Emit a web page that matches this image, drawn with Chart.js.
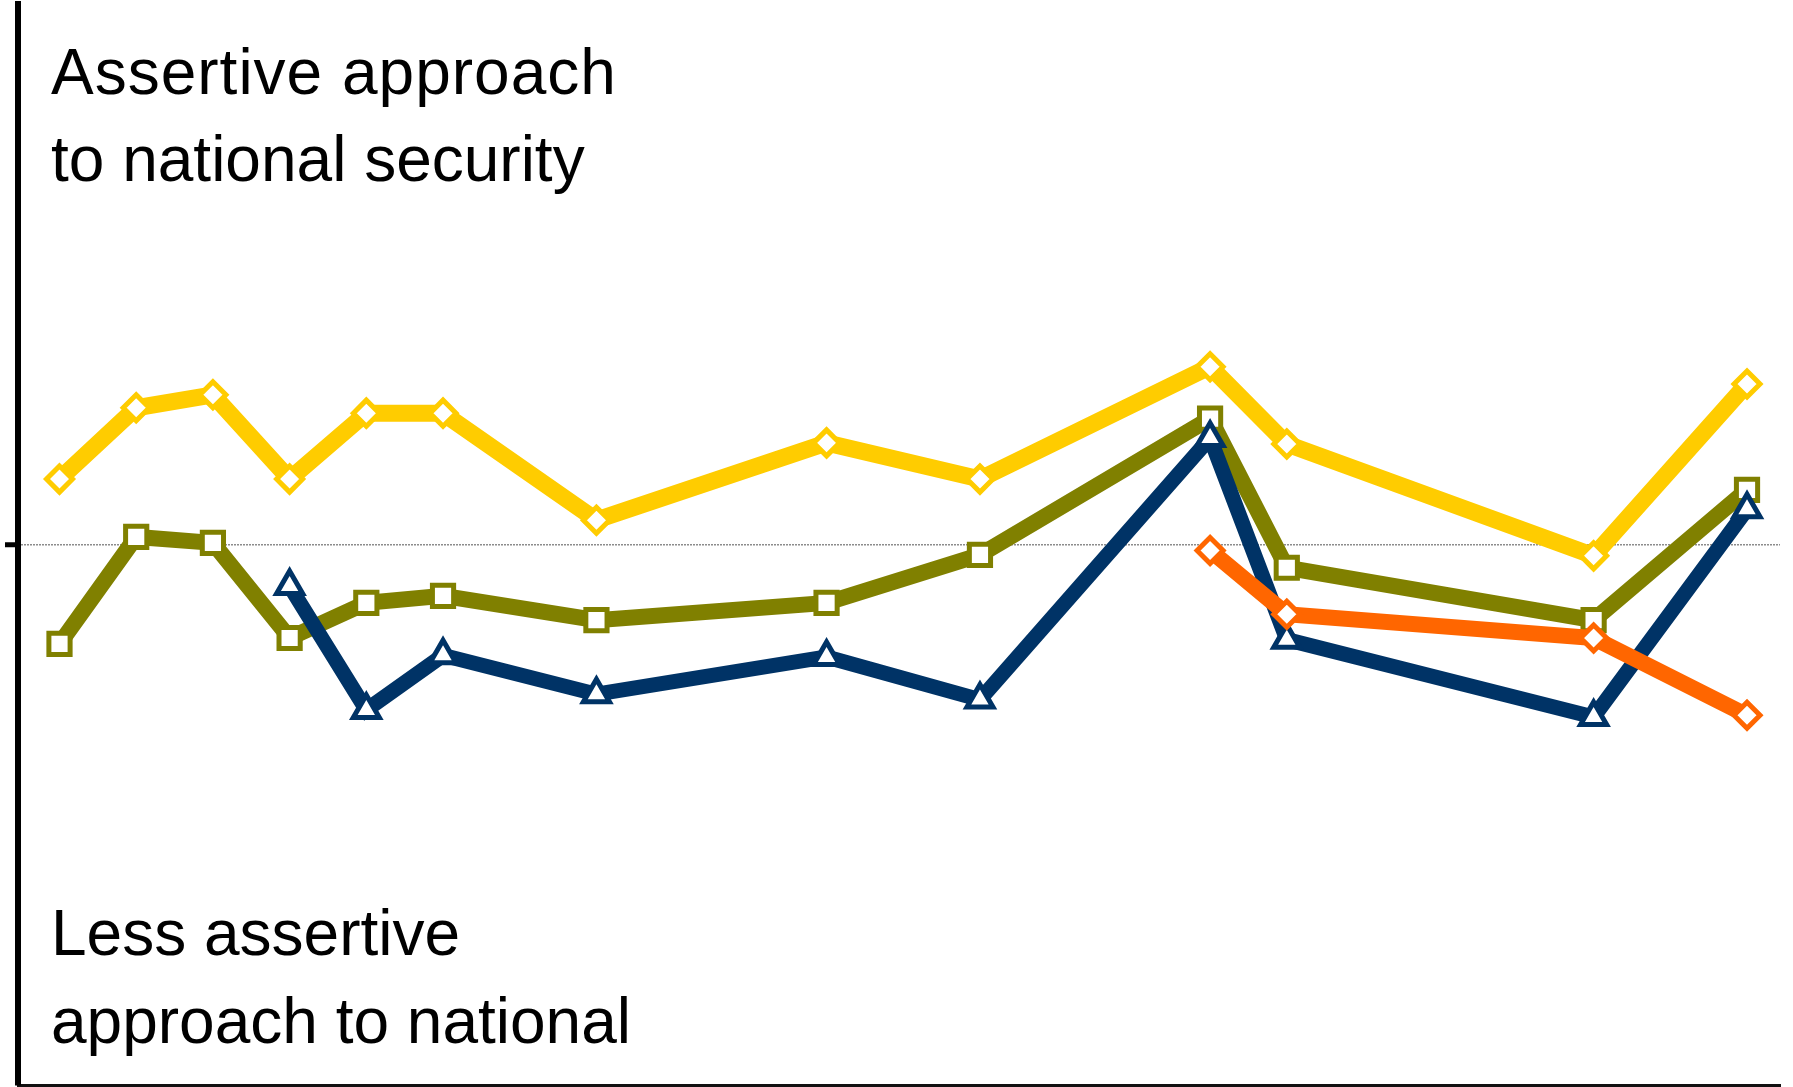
<!DOCTYPE html>
<html>
<head>
<meta charset="utf-8">
<title>Assertive approach to national security</title>
<script src="https://cdn.jsdelivr.net/npm/chart.js@4.4.1/dist/chart.umd.min.js"></script>
<style>
  html, body { margin: 0; padding: 0; background: #fff; overflow: hidden; }
  #wrap { position: relative; width: 1793px; height: 1087px; overflow: hidden; }
  /* canvas is a bit larger than the page so the point overflow padding sits off-screen */
  #stanceChart { position: absolute; left: -2px; top: -16px; }
</style>
</head>
<body>
<div id="wrap"><canvas id="stanceChart" width="1802" height="1121"></canvas></div>
<script>
// survey waves (positions along the time axis, irregular gaps)
const waves = [0, 1, 2, 3, 4, 5, 7, 10, 12, 15, 16, 20, 22];

// stance index per wave, 0 = neutral midpoint
const yellowSeries = [0.121, 0.253, 0.277, 0.121, 0.243, 0.243, 0.045, 0.188, 0.121, 0.329, 0.186, -0.021, 0.297];
const oliveSeries  = [-0.184, 0.014, 0.003, -0.173, -0.108, -0.095, -0.140, -0.108, -0.019, 0.233, -0.043, -0.140, 0.101];
const navySeries   = [null, null, null, -0.077, -0.306, -0.205, -0.277, -0.208, -0.287, 0.197, -0.176, -0.319, 0.065];
const orangeSeries = [null, null, null, null, null, null, null, null, null, -0.011, -0.129, -0.173, -0.316];

const yTicks = [0];

const topLabel = ['Assertive approach', 'to national security'];
const bottomLabel = ['Less assertive', 'approach to national'];

function toPoints(values) {
    return values
        .map((v, i) => ({ x: waves[i], y: v }))
        .filter(p => p.y !== null);
}

// corner captions, placed relative to the plot area
const captions = {
    id: 'captions',
    afterDraw(chart) {
        const c = chart.ctx;
        const a = chart.chartArea;
        const x = a.left + 33;
        c.save();
        c.fillStyle = '#000';
        c.font = '64px "Liberation Sans", Arial, sans-serif';
        c.textBaseline = 'alphabetic';
        c.textAlign = 'left';
        c.letterSpacing = '1px';
        c.fillText(topLabel[0], x, a.top + 90);
        c.letterSpacing = '0px';
        c.fillText(topLabel[1], x, a.top + 177);
        c.fillText(bottomLabel[0], x, a.bottom - 130);
        c.fillText(bottomLabel[1], x, a.bottom - 42);
        c.restore();
    }
};

function seriesStyle(color, shape, radius, border, width) {
    return {
        borderColor: color,
        borderWidth: width,
        pointStyle: shape,
        pointRadius: radius,
        pointHoverRadius: radius,
        pointBorderWidth: border,
        pointBackgroundColor: '#fff',
        pointBorderColor: color
    };
}

const ctx = document.getElementById('stanceChart').getContext('2d');
const stanceChart = new Chart(ctx, {
    type: 'line',
    data: {
        datasets: [
            { label: 'Orange', data: toPoints(orangeSeries), ...seriesStyle('#FF6600', 'rectRot', 13, 5, 16) },
            { label: 'Navy', data: toPoints(navySeries), ...seriesStyle('#003366', 'triangle', 15, 5, 15) },
            { label: 'Olive', data: toPoints(oliveSeries), ...seriesStyle('#808000', 'rect', 15, 5, 16) },
            { label: 'Yellow', data: toPoints(yellowSeries), ...seriesStyle('#FFCC00', 'rectRot', 13, 5, 17) }
        ]
    },
    options: {
        responsive: false,
        animation: false,
        clip: false,
        layout: {
            padding: { left: 5, top: 20, right: 20, bottom: 20 }
        },
        elements: {
            line: { tension: 0, borderJoinStyle: 'miter' }
        },
        plugins: {
            legend: { display: false },
            tooltip: { enabled: false }
        },
        scales: {
            x: {
                type: 'linear',
                min: -0.541,
                max: 22.43,
                grid: { display: false, drawTicks: false },
                ticks: { display: false },
                border: { display: true, color: '#111', width: 3 }
            },
            y: {
                min: -1,
                max: 1,
                afterBuildTicks: axis => {
                    axis.ticks = yTicks.map(v => ({ value: v }));
                },
                ticks: { display: false },
                grid: {
                    drawOnChartArea: true,
                    color: '#8c8c8c',
                    lineWidth: 1.5,
                    tickColor: '#000',
                    tickWidth: 5,
                    tickLength: 13
                },
                border: { display: true, color: '#000', width: 6, dash: [2, 1] }
            }
        }
    },
    plugins: [captions]
});
</script>
</body>
</html>
